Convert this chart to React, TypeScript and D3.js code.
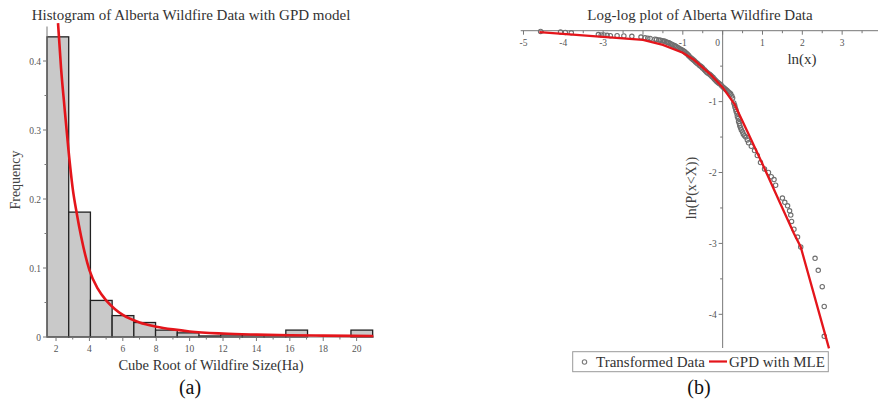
import React from "react";
import * as d3 from "d3";

// ---------- Panel (a): histogram ----------
const binLo = [1.46, 2.76, 4.06, 5.36, 6.66, 7.96, 9.26, 10.56, 11.86, 13.16, 14.46, 15.76, 17.06, 18.36, 19.66];
const binHi = [2.76, 4.06, 5.36, 6.66, 7.96, 9.26, 10.56, 11.86, 13.16, 14.46, 15.76, 17.06, 18.36, 19.66, 20.96];
const binFreq = [0.435, 0.181, 0.053, 0.031, 0.021, 0.01, 0.006, 0.0015, 0.003, 0.003, 0.003, 0.01, 0, 0, 0.01];
const gpdX = [2.12, 2.3, 2.5, 2.75, 3.0, 3.25, 3.5, 4.0, 4.5, 5.0, 5.5, 6.0, 7.0, 8.0, 9.0, 10, 12, 14, 16, 18, 21];
const gpdY = [0.455, 0.39, 0.335, 0.27, 0.215, 0.178, 0.146, 0.097, 0.07, 0.053, 0.041, 0.032, 0.021, 0.015, 0.011, 0.008, 0.005, 0.0035, 0.0025, 0.002, 0.0015];
const histXTicks = [2, 4, 6, 8, 10, 12, 14, 16, 18, 20];
const histXMinor = [3, 5, 7, 9, 11, 13, 15, 17, 19];
const histYTicks = [0, 0.1, 0.2, 0.3, 0.4];
const histYTickLabels = ["0", "0.1", "0.2", "0.3", "0.4"];
const histYMinor = [0.05, 0.15, 0.25, 0.35];

// ---------- Panel (b): log-log ----------
const dataLnX = [
  -4.57, -4.07, -3.95, -3.8, -3.12, -3.05, -2.98, -2.9, -2.82, -2.65, -2.48, -2.28, -2.05, -1.95, -1.88,
  -1.7, -1.6, -1.52, -1.45, -1.38, -1.32, -1.25, -1.18, -1.12, -1.06, -1.0, -0.95, -0.89, -0.84, -0.8,
  -0.74, -0.68, -0.62, -0.55, -0.5, -0.43, -0.37, -0.3, -0.24, -0.18, -0.12, -0.05, 0.02, 0.08, 0.14,
  0.2, 0.25, 0.28, 0.31, 0.34, 0.37, 0.4, 0.43, 0.47, 0.52, 0.58, 0.65, 0.72, 0.8, 0.87, 0.95, 1.05,
  1.15, 1.22, 1.29, 1.33, 1.5, 1.56, 1.63, 1.68, 1.71, 1.73, 1.79, 1.88, 1.96, 2.32, 2.4, 2.5, 2.55, 2.55,
  // denser cluster in the middle band
  -1.82, -1.66, -1.56, -1.48, -1.41, -1.35, -1.28, -1.21, -1.15, -1.09, -1.03, -0.97, -0.92, -0.86,
  -0.77, -0.71, -0.65, -0.58, -0.52, -0.46, -0.4, -0.33, -0.27, -0.21, -0.15, -0.09, -0.02, 0.05,
  0.11, 0.17, 0.23, 0.3, 0.33, 0.36, 0.39, 0.42, 0.45, 0.5, 0.55, 0.62,
];
const dataLnP = [
  -0.01, -0.02, -0.025, -0.03, -0.055, -0.06, -0.06, -0.065, -0.07, -0.07, -0.075, -0.08, -0.09, -0.1, -0.105,
  -0.12, -0.13, -0.14, -0.15, -0.165, -0.18, -0.2, -0.22, -0.24, -0.26, -0.28, -0.3, -0.33, -0.36, -0.38,
  -0.41, -0.44, -0.47, -0.5, -0.53, -0.57, -0.6, -0.63, -0.66, -0.7, -0.73, -0.76, -0.8, -0.83, -0.86,
  -0.89, -0.95, -1.02, -1.08, -1.14, -1.21, -1.28, -1.34, -1.4, -1.46, -1.5, -1.58, -1.63, -1.69, -1.76, -1.86, -1.95,
  -2.0, -2.06, -2.1, -2.18, -2.36, -2.42, -2.47, -2.54, -2.6, -2.69, -2.8, -2.91, -3.05, -3.21, -3.38, -3.61, -3.89, -4.31,
  -0.11, -0.125, -0.135, -0.145, -0.16, -0.17, -0.19, -0.21, -0.23, -0.25, -0.27, -0.29, -0.315, -0.345,
  -0.395, -0.425, -0.455, -0.49, -0.515, -0.55, -0.585, -0.615, -0.645, -0.68, -0.715, -0.745, -0.78, -0.815,
  -0.845, -0.875, -0.92, -1.05, -1.11, -1.17, -1.24, -1.31, -1.37, -1.43, -1.48, -1.54,
];
const fitLnX = [-4.6, -2.0, -1.5, -1.0, -0.72, -0.3, 0.0, 0.3, 0.62, 1.0, 1.41, 1.79, 1.96, 2.67];
const fitLnP = [-0.02, -0.13, -0.2, -0.31, -0.41, -0.62, -0.8, -1.04, -1.42, -1.88, -2.39, -2.86, -3.05, -4.48];
const llXTicks = [-5, -4, -3, -2, -1, 0, 1, 2, 3];
const llXTickLabels = ["-5", "-4", "-3", "", "-1", "0", "1", "2", "3"];
const llXMinor = [-4.5, -3.5, -2.5, -1.5, -0.5, 0.5, 1.5, 2.5, 3.5];
const llYTicks = [-1, -2, -3, -4];
const llYTickLabels = ["-1", "-2", "-3", "-4"];
const llYMinor = [-0.5, -1.5, -2.5, -3.5];

const SERIF = "'Liberation Serif', 'Times New Roman', serif";
const RED = "#e4151b";
const AXIS = "#777";
const TICKTXT = "#555";

export default function App() {
  const xa = d3.scaleLinear().domain([1.46, 21.04]).range([47, 374]);
  const ya = d3.scaleLinear().domain([0, 0.45]).range([337, 26.5]);
  const gpdLine = d3
    .line<number>()
    .x((_, i) => xa(gpdX[i]))
    .y((_, i) => ya(gpdY[i]))
    .curve(d3.curveMonotoneX);

  const xb = d3.scaleLinear().domain([-5.07, 3.9]).range([520.7, 878]);
  const yb = d3.scaleLinear().domain([0, -4.475]).range([30.7, 348]);
  const fitLine = d3
    .line<number>()
    .x((_, i) => xb(fitLnX[i]))
    .y((_, i) => yb(fitLnP[i]));

  const x0b = xb(0);
  const y0b = yb(0);

  return (
    <svg width={878} height={400} style={{ position: "absolute", left: 0, top: 0, background: "#fff" }} fontFamily={SERIF}>
      <rect x={0} y={0} width={878} height={400} fill="#fff" />
      {/* ---------------- Panel (a) ---------------- */}
      <text x={191} y={20} textAnchor="middle" fontSize={15} fill="#333">
        Histogram of Alberta Wildfire Data with GPD model
      </text>
      {binFreq.map((f, i) =>
        f > 0 ? (
          <rect
            key={i}
            x={xa(binLo[i])}
            y={ya(f)}
            width={xa(binHi[i]) - xa(binLo[i])}
            height={ya(0) - ya(f)}
            fill="#c9c9c9"
            stroke="#222"
            strokeWidth={1.3}
          />
        ) : null
      )}
      <line x1={xa.range()[0]} x2={xa.range()[1]} y1={ya(0)} y2={ya(0)} stroke={AXIS} strokeWidth={1} />
      <line x1={xa.range()[0]} x2={xa.range()[0]} y1={ya(0)} y2={ya(0.45)} stroke={AXIS} strokeWidth={1} />
      {histXTicks.map((t) => (
        <g key={"hx" + t}>
          <line x1={xa(t)} x2={xa(t)} y1={ya(0)} y2={ya(0) + 4} stroke={AXIS} />
          <text x={xa(t)} y={ya(0) + 15} textAnchor="middle" fontSize={9.5} fill={TICKTXT}>
            {t}
          </text>
        </g>
      ))}
      {histXMinor.map((t) => (
        <line key={"hxm" + t} x1={xa(t)} x2={xa(t)} y1={ya(0)} y2={ya(0) + 2.5} stroke={AXIS} />
      ))}
      {histYTicks.map((t, i) => (
        <g key={"hy" + t}>
          <line x1={xa.range()[0] - 4} x2={xa.range()[0]} y1={ya(t)} y2={ya(t)} stroke={AXIS} />
          <text x={xa.range()[0] - 6} y={ya(t) + 3.5} textAnchor="end" fontSize={9.5} fill={TICKTXT}>
            {histYTickLabels[i]}
          </text>
        </g>
      ))}
      {histYMinor.map((t) => (
        <line key={"hym" + t} x1={xa.range()[0] - 2.5} x2={xa.range()[0]} y1={ya(t)} y2={ya(t)} stroke={AXIS} />
      ))}
      <path d={gpdLine(gpdX) || ""} fill="none" stroke={RED} strokeWidth={2.6} />
      <text x={211} y={370} textAnchor="middle" fontSize={14.5} fill="#333">
        Cube Root of Wildfire Size(Ha)
      </text>
      <text transform="translate(20,180) rotate(-90)" textAnchor="middle" fontSize={14} fill="#444">
        Frequency
      </text>
      <text x={190} y={394} textAnchor="middle" fontSize={20} fill="#111">
        (a)
      </text>

      {/* ---------------- Panel (b) ---------------- */}
      <text x={700} y={20} textAnchor="middle" fontSize={15} fill="#333">
        Log-log plot of Alberta Wildfire Data
      </text>
      <line x1={xb.range()[0]} x2={xb.range()[1]} y1={y0b} y2={y0b} stroke={AXIS} />
      <line x1={x0b} x2={x0b} y1={y0b} y2={yb.range()[1]} stroke={AXIS} />
      {llXTicks.map((t, i) => (
        <g key={"lx" + t}>
          <line x1={xb(t)} x2={xb(t)} y1={y0b} y2={y0b + 4} stroke={AXIS} />
          <text x={t === 0 ? xb(t) - 5 : xb(t)} y={y0b + 15} textAnchor="middle" fontSize={9.5} fill={TICKTXT}>
            {llXTickLabels[i]}
          </text>
        </g>
      ))}
      {llXMinor.map((t) => (
        <line key={"lxm" + t} x1={xb(t)} x2={xb(t)} y1={y0b} y2={y0b + 2.5} stroke={AXIS} />
      ))}
      {llYTicks.map((t, i) => (
        <g key={"ly" + t}>
          <line x1={x0b - 4} x2={x0b} y1={yb(t)} y2={yb(t)} stroke={AXIS} />
          <text x={x0b - 6} y={yb(t) + 3.5} textAnchor="end" fontSize={9.5} fill={TICKTXT}>
            {llYTickLabels[i]}
          </text>
        </g>
      ))}
      {llYMinor.map((t) => (
        <line key={"lym" + t} x1={x0b - 2.5} x2={x0b} y1={yb(t)} y2={yb(t)} stroke={AXIS} />
      ))}
      <text x={802} y={64} textAnchor="middle" fontSize={15} fill="#333">
        ln(x)
      </text>
      <text transform="translate(696,188) rotate(-90)" textAnchor="middle" fontSize={14} fill="#444">
        ln(P(x&lt;X))
      </text>
      {dataLnX.map((v, i) => (
        <circle key={"pt" + i} cx={xb(v)} cy={yb(dataLnP[i])} r={2.2} fill="none" stroke="#6f6f6f" strokeWidth={1.1} />
      ))}
      <path d={fitLine(fitLnX) || ""} fill="none" stroke={RED} strokeWidth={2.3} />

      {/* legend */}
      <rect x={572.7} y={351.7} width={255.6} height={20} fill="#fff" stroke="#999" strokeWidth={1} />
      <circle cx={584.5} cy={362} r={2.2} fill="none" stroke="#7a7a7a" strokeWidth={1.1} />
      <text x={596} y={367} fontSize={15} fill="#333">
        Transformed Data
      </text>
      <line x1={709} x2={727} y1={361.5} y2={361.5} stroke={RED} strokeWidth={2.2} />
      <text x={729} y={367} fontSize={15} fill="#333">
        GPD with MLE
      </text>
      <text x={699} y={394} textAnchor="middle" fontSize={20} fill="#111">
        (b)
      </text>
    </svg>
  );
}
